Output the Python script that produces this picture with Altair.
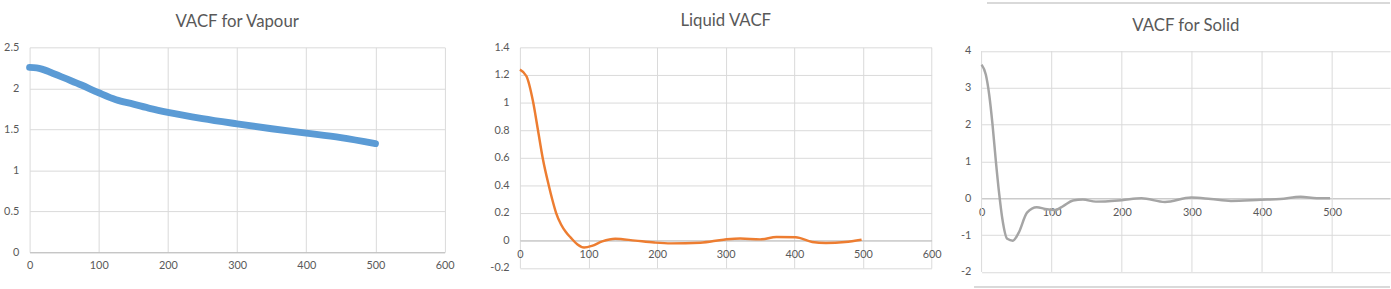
import altair as alt
import pandas as pd

FONT = "Lato"
GRID = "#d9d9d9"
AXIS = "#bfbfbf"
TEXT = "#595959"

# ---- data ----
vapour_t = [0, 10, 20, 30, 40, 50, 75, 100, 125, 150, 175, 200, 250, 300, 350, 400, 450, 500]
vapour_v = [2.255, 2.25, 2.228, 2.196, 2.162, 2.127, 2.04, 1.945, 1.86, 1.807, 1.752, 1.706, 1.63, 1.566, 1.506, 1.453, 1.398, 1.325]

liquid_t = [0, 9.6, 19, 26.3, 33.5, 42, 47, 52.7, 60, 67, 74, 84, 93.5, 105, 120, 139, 168, 196, 220, 263, 297, 321, 350, 374, 402, 426, 446, 474, 498]
liquid_v = [1.238, 1.19, 1.01, 0.80, 0.59, 0.40, 0.30, 0.20, 0.115, 0.06, 0.02, -0.03, -0.052, -0.04, -0.007, 0.012, -0.002, -0.016, -0.022, -0.017, 0.005, 0.014, 0.007, 0.024, 0.022, -0.012, -0.019, -0.012, 0.005]

solid_t = [0, 6, 10.8, 15.5, 20.2, 25, 29.7, 36.6, 44.6, 53, 64.8, 78.8, 90.6, 104.7, 116.4, 130.4, 144.5, 163, 200, 228, 261.5, 299, 327, 355.6, 398, 426, 455, 478, 497]
solid_v = [3.63, 3.36, 2.82, 2.02, 1.04, 0.14, -0.57, -1.1, -1.15, -0.93, -0.39, -0.24, -0.29, -0.32, -0.21, -0.06, -0.035, -0.09, -0.05, 0.0, -0.1, 0.02, -0.02, -0.07, -0.04, -0.02, 0.04, 0.0, 0.0]

titles = ["VACF for Vapour", "Liquid VACF", "VACF for Solid"]
x_ticks = [0, 100, 200, 300, 400, 500, 600]
x_ticks_solid = [0, 100, 200, 300, 400, 500]
y_ticks_vapour = [0, 0.5, 1, 1.5, 2, 2.5]
y_ticks_liquid = [-0.2, 0, 0.2, 0.4, 0.6, 0.8, 1, 1.2, 1.4]
y_ticks_solid = [-2, -1, 0, 1, 2, 3, 4]

LBL = "'' + datum.value"


def ttl(text, offset):
    return alt.TitleParams(text, font=FONT, fontSize=17, fontWeight="normal",
                           color=TEXT, anchor="middle", offset=offset, frame="group")


def yaxis(values, extent):
    return alt.Axis(values=values, title=None, grid=True, gridColor=GRID, domain=False,
                    ticks=False, labelPadding=11, labelExpr=LBL, labelOverlap=False,
                    labelFlush=False, minExtent=extent, maxExtent=extent)


def xaxis(values, offset=0, grid=True):
    return alt.Axis(values=values, title=None, grid=grid, gridColor=GRID,
                    domainColor=AXIS, ticks=False, labelPadding=8, offset=offset,
                    labelFlush=False, labelOverlap=False)


# ---- panel 1 : vapour ----
vap = pd.DataFrame({"t": vapour_t, "v": vapour_v})
p1 = alt.Chart(vap).mark_line(color="#5B9BD5", strokeWidth=7, strokeCap="round",
                              interpolate="monotone").encode(
    x=alt.X("t:Q", scale=alt.Scale(domain=[0, 600], nice=False), axis=xaxis(x_ticks)),
    y=alt.Y("v:Q", scale=alt.Scale(domain=[0, 2.5], nice=False),
            axis=yaxis(y_ticks_vapour, 29.3)),
).properties(width=420.7, height=207.6, title=ttl(titles[0], 10.7))

# ---- panel 2 : liquid ----
liq = pd.DataFrame({"t": liquid_t, "v": liquid_v})
p2 = alt.Chart(liq).mark_line(color="#ED7D31", strokeWidth=2.5,
                              interpolate="monotone").encode(
    x=alt.X("t:Q", scale=alt.Scale(domain=[0, 600], nice=False),
            axis=xaxis(x_ticks, offset=-27.95)),
    y=alt.Y("v:Q", scale=alt.Scale(domain=[-0.2, 1.4], nice=False, zero=False),
            axis=yaxis(y_ticks_liquid, 55.2)),
).properties(width=417.3, height=223.6, title=ttl(titles[1], 11.7))

# ---- panel 3 : solid ----
sol = pd.DataFrame({"t": solid_t, "v": solid_v})
grid3 = pd.DataFrame({"gx": x_ticks_solid, "g0": [-2] * 6, "g1": [4] * 6})
xs3 = alt.Scale(domain=[0, 582.5], nice=False)
ys3 = alt.Scale(domain=[-2, 4.1], nice=False, zero=False)
xa3 = xaxis(x_ticks_solid, offset=-74.65, grid=False)
ya3 = yaxis(y_ticks_solid, 30.3)

line3 = alt.Chart(sol).mark_line(color="#A5A5A5", strokeWidth=2.5,
                                 interpolate="monotone").encode(
    x=alt.X("t:Q", scale=xs3, axis=xa3),
    y=alt.Y("v:Q", scale=ys3, axis=ya3),
)
vgrid = alt.Chart(grid3).mark_rule(color=GRID, strokeWidth=1).encode(
    x=alt.X("gx:Q", scale=xs3, axis=xa3),
    y=alt.Y("g0:Q", scale=ys3, axis=ya3),
    y2="g1:Q",
)
frame_top = alt.Chart(grid3).mark_rule(color=GRID, strokeWidth=1.5).encode(
    x=alt.value(5.7), x2=alt.value(414), y=alt.value(-45))
frame_bot = alt.Chart(grid3).mark_rule(color=GRID, strokeWidth=1.5).encode(
    x=alt.value(-7.3), x2=alt.value(414), y=alt.value(242.6))

p3 = alt.layer(vgrid, line3, frame_top, frame_bot).properties(
    width=414, height=227.7, title=ttl(titles[2], -33.3))

chart = alt.hconcat(p1, p2, p3, spacing=10).properties(
    padding={"left": 0, "top": 0, "right": 0, "bottom": 0}
).configure_view(stroke=None).configure_axis(
    labelFont=FONT, labelFontSize=11, labelColor=TEXT, gridColor=GRID
)

chart.save("out.html", embed_options={"renderer": "svg", "actions": False})
